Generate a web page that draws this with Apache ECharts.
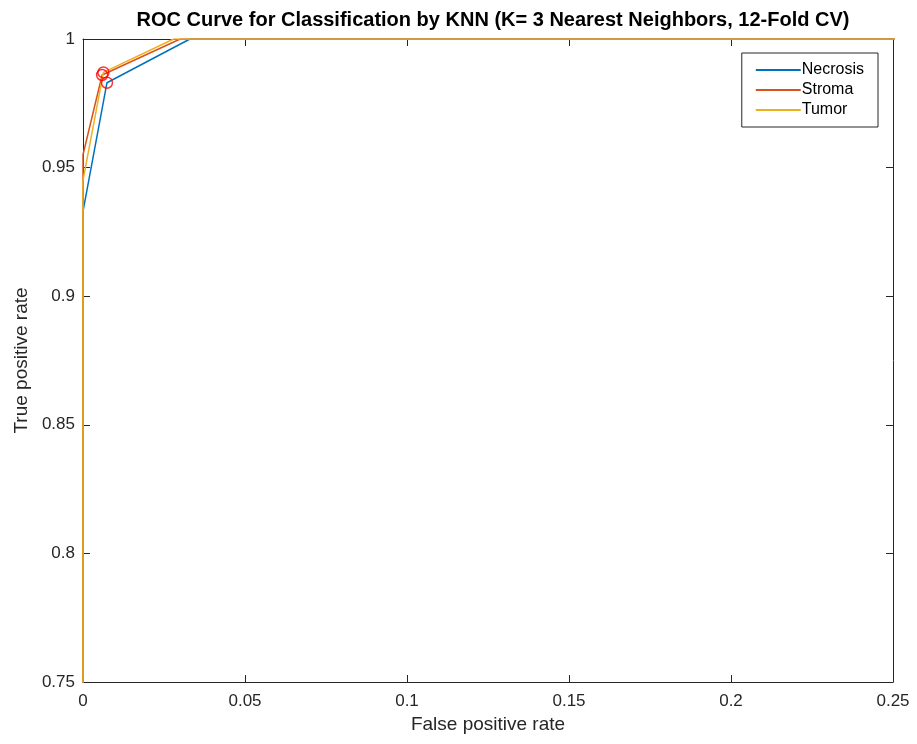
<!DOCTYPE html>
<html>
<head>
<meta charset="utf-8">
<script src="https://cdn.jsdelivr.net/npm/echarts@6/dist/echarts.min.js"></script>
<style>
html,body{margin:0;padding:0;background:#fff;}
#chart{width:917px;height:744px;}
</style>
</head>
<body>
<div id="chart"></div>
<script>
// Data
var seriesNames = ['Necrosis', 'Stroma', 'Tumor'];
var necrosisFPR = [0, 0, 0.0074, 0.033, 1];
var necrosisTPR = [0, 0.933, 0.983, 1, 1];
var stromaFPR = [0, 0, 0.0059, 0.030, 1];
var stromaTPR = [0, 0.955, 0.986, 1, 1];
var tumorFPR = [0, 0, 0.0063, 0.028, 1];
var tumorTPR = [0, 0.945, 0.987, 1, 1];
// operating points (red circles)
var optFPR = [0.0074, 0.0059, 0.0063];
var optTPR = [0.983, 0.986, 0.987];
var xTicks = [0, 0.05, 0.1, 0.15, 0.2, 0.25];
var yTicks = [0.75, 0.8, 0.85, 0.9, 0.95, 1];

function pairs(xs, ys) { return xs.map(function (x, i) { return [x, ys[i]]; }); }

var colors = ['#0072BD', '#D95319', '#EDB120'];
var font = 'Liberation Sans, Arial, Helvetica, sans-serif';
var axisColor = '#262626';

function fmt(v) { return String(+v.toFixed(4)); }

var chart = echarts.init(document.getElementById('chart'), null, { renderer: 'canvas' });
var baseAxis = {
  axisLine: { show: true, onZero: false, lineStyle: { color: axisColor, width: 1 } },
  axisTick: { show: true, inside: true, length: 7, lineStyle: { color: axisColor } },
  splitLine: { show: false },
  axisLabel: { color: axisColor, fontSize: 17, fontFamily: font }
};
var option = {
  animation: false,
  backgroundColor: '#ffffff',
  title: {
    text: 'ROC Curve for Classification by KNN (K= 3 Nearest Neighbors, 12-Fold CV)',
    left: 488, top: 5, textAlign: 'center',
    textStyle: { fontSize: 20, fontWeight: 'bold', color: '#000', fontFamily: font }
  },
  legend: {
    data: seriesNames,
    orient: 'vertical',
    right: 39, top: 53,
    borderColor: axisColor, borderWidth: 1,
    backgroundColor: '#fff',
    padding: [9, 14, 9, 14],
    itemGap: 4,
    itemWidth: 45, itemHeight: 2,
    icon: 'rect',
    textStyle: { fontSize: 16, color: '#000', fontFamily: font, padding: [0, 0, 0, -4] }
  },
  grid: { left: 83, right: 24, top: 39, bottom: 62, show: false },
  xAxis: [
    Object.assign({}, baseAxis, {
      type: 'value', min: 0, max: 0.25, interval: 0.05, position: 'bottom',
      name: 'False positive rate', nameLocation: 'middle', nameGap: 30,
      nameTextStyle: { fontSize: 19, color: axisColor, fontFamily: font },
      axisLabel: Object.assign({}, baseAxis.axisLabel, { margin: 11, formatter: fmt })
    }),
    Object.assign({}, baseAxis, {
      type: 'value', min: 0, max: 0.25, interval: 0.05, position: 'top',
      axisLabel: { show: false }
    })
  ],
  yAxis: [
    Object.assign({}, baseAxis, {
      type: 'value', min: 0.75, max: 1, interval: 0.05, position: 'left',
      name: 'True positive rate', nameLocation: 'middle', nameGap: 52,
      nameTextStyle: { fontSize: 19, color: axisColor, fontFamily: font },
      axisLabel: Object.assign({}, baseAxis.axisLabel, { margin: 8, formatter: fmt })
    }),
    Object.assign({}, baseAxis, {
      type: 'value', min: 0.75, max: 1, interval: 0.05, position: 'right',
      axisLabel: { show: false }
    })
  ],
  series: [
    { name: 'Necrosis', type: 'line', data: pairs(necrosisFPR, necrosisTPR), showSymbol: false, symbol: 'none',
      lineStyle: { color: colors[0], width: 1.5 }, itemStyle: { color: colors[0] }, clip: true, z: 2 },
    { name: 'Stroma', type: 'line', data: pairs(stromaFPR, stromaTPR), showSymbol: false, symbol: 'none',
      lineStyle: { color: colors[1], width: 1.5 }, itemStyle: { color: colors[1] }, clip: true, z: 2 },
    { name: 'Tumor', type: 'line', data: pairs(tumorFPR, tumorTPR), showSymbol: false, symbol: 'none',
      lineStyle: { color: colors[2], width: 1.5 }, itemStyle: { color: colors[2] }, clip: true, z: 2 },
    { name: 'Optimal', type: 'scatter', data: pairs(optFPR, optTPR), symbol: 'circle', symbolSize: 11,
      itemStyle: { color: 'rgba(0,0,0,0)', borderColor: '#FF0000', borderWidth: 1.5 }, z: 3 }
  ]
};
chart.setOption(option);
</script>
</body>
</html>
